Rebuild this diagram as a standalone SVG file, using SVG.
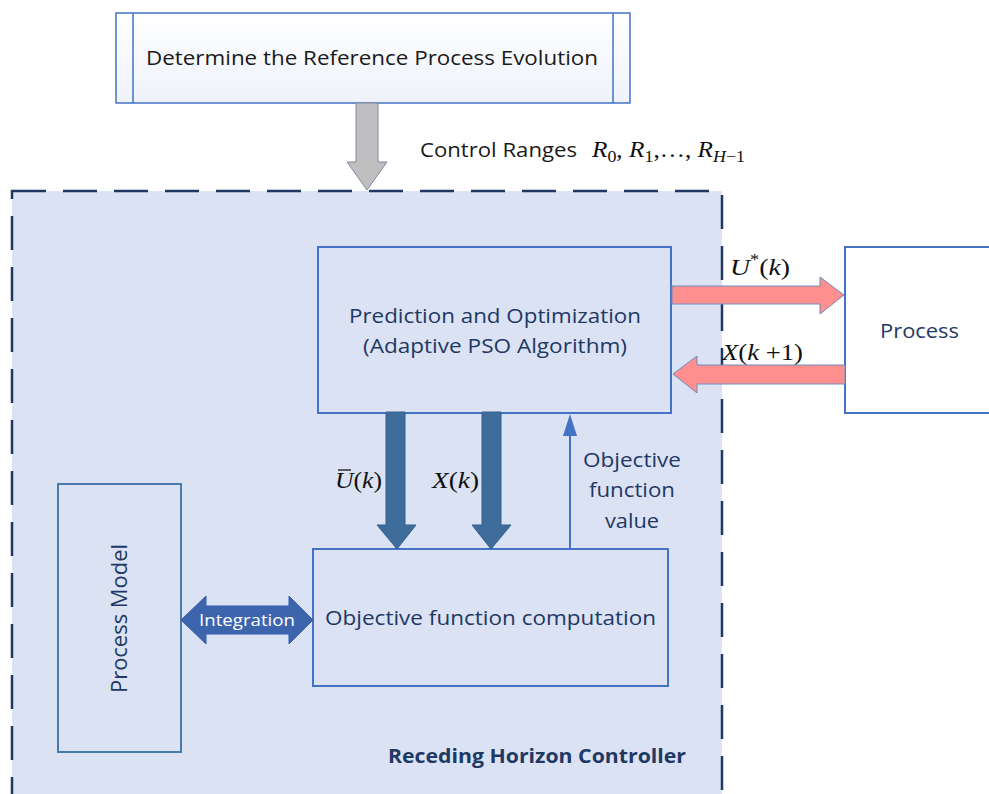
<svg xmlns="http://www.w3.org/2000/svg" width="989" height="794" viewBox="0 0 989 794">
<style>
.lbl{font-family:"Open Sans","Liberation Sans",sans-serif;fill:#1f3864;font-size:20px}
.blk{font-family:"Open Sans","Liberation Sans",sans-serif;fill:#1a1a1a;font-size:20px}
.math{font-family:"Liberation Serif","Times New Roman",serif;font-style:italic;fill:#111;font-size:24px}
.mup{font-family:"Liberation Serif","Times New Roman",serif;font-style:normal}
.box{fill:none;stroke:#4472c4;stroke-width:2}
.pink{fill:#ff8f8f;stroke:#6d8cc0;stroke-width:1}
.dark{fill:#3e6d9c;stroke:#35608c;stroke-width:1}
</style>
<defs>
<linearGradient id="topfill" x1="0" y1="0" x2="0" y2="1">
<stop offset="0" stop-color="#ffffff"/>
<stop offset="1" stop-color="#eef2fa"/>
</linearGradient>
</defs>
<rect width="989" height="794" fill="#ffffff"/>
<g id="controller">
<rect x="12" y="191" width="710" height="620" fill="#dae2f3" stroke="#1f3864" stroke-width="2.5" stroke-dasharray="34 17"/>
<text x="388" y="763" textLength="298" lengthAdjust="spacingAndGlyphs" class="lbl" style="font-weight:bold">Receding Horizon Controller</text>
</g>
<g id="reference">
<rect x="116" y="13" width="514" height="90" fill="url(#topfill)" stroke="#4472c4" stroke-width="1.5"/>
<line x1="133" y1="13" x2="133" y2="103" stroke="#4472c4" stroke-width="1.5"/>
<line x1="613" y1="13" x2="613" y2="103" stroke="#4472c4" stroke-width="1.5"/>
<text x="146" y="65" textLength="452" lengthAdjust="spacingAndGlyphs" class="blk">Determine the Reference Process Evolution</text>
</g>
<g id="prediction">
<rect x="318" y="247" width="353" height="166" class="box"/>
<text x="349" y="323" textLength="292" lengthAdjust="spacingAndGlyphs" class="lbl">Prediction and Optimization</text>
<text x="363" y="353" textLength="264" lengthAdjust="spacingAndGlyphs" class="lbl">(Adaptive PSO Algorithm)</text>
</g>
<g id="process">
<rect x="845" y="247" width="150" height="166" fill="#ffffff" stroke="#4472c4" stroke-width="2"/>
<text x="880" y="338" textLength="79" lengthAdjust="spacingAndGlyphs" class="lbl">Process</text>
</g>
<g id="objective">
<rect x="313" y="549" width="355" height="137" class="box"/>
<text x="325" y="625" textLength="331" lengthAdjust="spacingAndGlyphs" class="lbl">Objective function computation</text>
</g>
<g id="model">
<rect x="58" y="484" width="123" height="268" fill="none" stroke="#4a7aa8" stroke-width="2"/>
<text transform="translate(127,693) rotate(-90)" x="0" y="0" textLength="149" lengthAdjust="spacingAndGlyphs" class="lbl" style="font-size:22px">Process Model</text>
</g>
<g id="connectors">
<polygon points="356,103 378,103 378,162 387,162 367,190 347,162 356,162" fill="#bfbfbf" stroke="#7f8aa0" stroke-width="1"/>
<text x="420" y="157" textLength="157" lengthAdjust="spacingAndGlyphs" class="blk">Control Ranges</text>
<text x="592" y="157" textLength="153" lengthAdjust="spacingAndGlyphs" class="math">R<tspan dy="5" font-size="17" class="mup">0</tspan><tspan dy="-5" class="mup">, </tspan>R<tspan dy="5" font-size="17" class="mup">1</tspan><tspan dy="-5" class="mup">,…, </tspan>R<tspan dy="5" font-size="17">H</tspan><tspan font-size="17" class="mup">−1</tspan></text>

<polygon points="672,286 820,286 820,277 844,295 820,314 820,304 672,304" class="pink"/>
<polygon points="845,365 697,365 697,356 673,374 697,393 697,384 845,384" class="pink"/>
<text x="730" y="275" textLength="60" lengthAdjust="spacingAndGlyphs" class="math">U<tspan dy="-10" font-size="16" class="mup">*</tspan><tspan dy="10" class="mup">(</tspan>k<tspan class="mup">)</tspan></text>
<text x="722" y="360" textLength="81" lengthAdjust="spacingAndGlyphs" class="math">X<tspan class="mup">(</tspan>k<tspan class="mup"> +1)</tspan></text>

<polygon points="386,412 405,412 405,525 416,525 397,549 377,525 386,525" class="dark"/>
<polygon points="482,412 501,412 501,525 511,525 491,549 472,525 482,525" class="dark"/>
<text x="335" y="488" textLength="47" lengthAdjust="spacingAndGlyphs" class="math">U<tspan class="mup">(</tspan>k<tspan class="mup">)</tspan></text>
<line x1="338" y1="470" x2="351" y2="470" stroke="#111" stroke-width="1.3"/>
<text x="432" y="488" textLength="47" lengthAdjust="spacingAndGlyphs" class="math">X<tspan class="mup">(</tspan>k<tspan class="mup">)</tspan></text>

<line x1="570" y1="549" x2="570" y2="432" stroke="#4472c4" stroke-width="2"/>
<polygon points="570,414 577,436 563,436" fill="#4472c4"/>
<text x="583" y="467" textLength="98" lengthAdjust="spacingAndGlyphs" class="lbl">Objective</text>
<text x="589" y="497" textLength="86" lengthAdjust="spacingAndGlyphs" class="lbl">function</text>
<text x="605" y="528" textLength="54" lengthAdjust="spacingAndGlyphs" class="lbl">value</text>

<polygon points="181,620 206,596 206,606 289,606 289,596 313,620 289,644 289,634 206,634 206,644" fill="#3c65ae" stroke="#3560a8" stroke-width="1"/>
<text x="199" y="626" textLength="96" lengthAdjust="spacingAndGlyphs" style="font-family:'Open Sans','Liberation Sans',sans-serif;font-size:17px;fill:#ffffff">Integration</text>
</g>
</svg>
